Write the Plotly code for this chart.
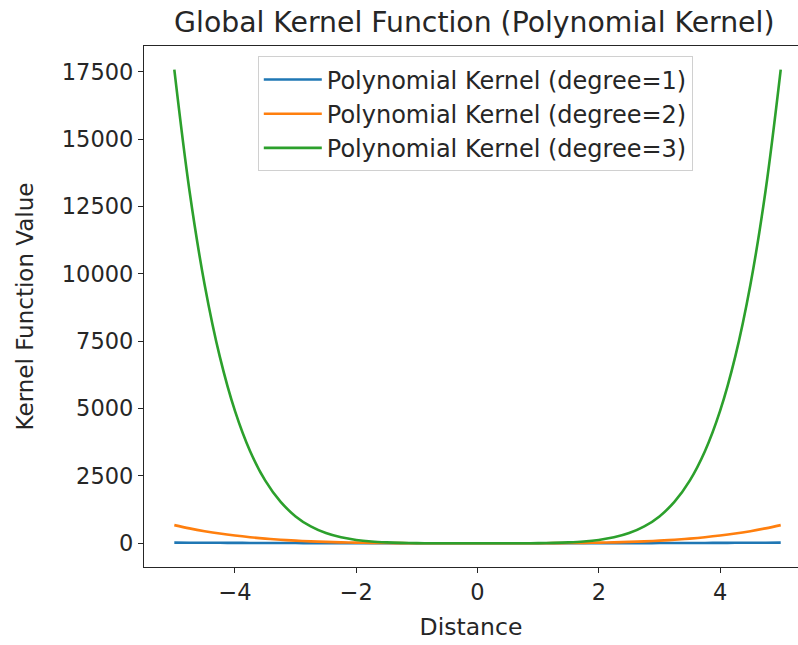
import plotly.graph_objects as go

distance = [-5, -4.75, -4.5, -4.25, -4, -3.75, -3.5, -3.25, -3, -2.75, -2.5, -2.25, -2, -1.75, -1.5, -1.25, -1, -0.75, -0.5, -0.25,
            0, 0.25, 0.5, 0.75, 1, 1.25, 1.5, 1.75, 2, 2.25, 2.5, 2.75, 3, 3.25, 3.5, 3.75, 4, 4.25, 4.5, 4.75, 5]

deg1 = [26, 23.6, 21.3, 19.1, 17, 15.1, 13.3, 11.6, 10, 8.6, 7.3, 6.1, 5, 4.1, 3.3, 2.6, 2, 1.6, 1.3, 1.1,
        1, 1.1, 1.3, 1.6, 2, 2.6, 3.3, 4.1, 5, 6.1, 7.3, 8.6, 10, 11.6, 13.3, 15.1, 17, 19.1, 21.3, 23.6, 26]

deg2 = [676, 555, 452, 363, 289, 227, 176, 134, 100, 73, 53, 37, 25, 16.5, 10.6, 6.6, 4, 2.4, 1.6, 1.1,
        1, 1.1, 1.6, 2.4, 4, 6.6, 10.6, 16.5, 25, 37, 53, 73, 100, 134, 176, 227, 289, 363, 452, 555, 676]

deg3 = [17576, 13082, 9596, 6927, 4913, 3417, 2326, 1546, 1000, 628, 381, 223, 125, 67, 34.3, 16.8, 8, 3.8, 2, 1.2,
        1, 1.2, 2, 3.8, 8, 16.8, 34.3, 67, 125, 223, 381, 628, 1000, 1546, 2326, 3417, 4913, 6927, 9596, 13082, 17576]

series_names = ["Polynomial Kernel (degree=1)", "Polynomial Kernel (degree=2)", "Polynomial Kernel (degree=3)"]
series_values = [deg1, deg2, deg3]
colors = ["#1f77b4", "#ff7f0e", "#2ca02c"]

x_ticks = [-4, -2, 0, 2, 4]
x_tick_labels = ["\u22124", "\u22122", "0", "2", "4"]
y_ticks = [0, 2500, 5000, 7500, 10000, 12500, 15000, 17500]
y_tick_labels = ["0", "2500", "5000", "7500", "10000", "12500", "15000", "17500"]

fig = go.Figure()
for i, (name, vals, c) in enumerate(zip(series_names, series_values, colors)):
    fig.add_trace(go.Scatter(x=distance, y=vals, mode="lines", name=name,
                             line=dict(color=c, width=2.6, shape="spline", smoothing=1),
                             legendgroup=str(i)))

font = "DejaVu Sans"
ink = "#262626"
axis_common = dict(showline=True, linecolor=ink, linewidth=1.3, ticks="outside", ticklen=5,
                   tickwidth=1.3, tickcolor=ink, showgrid=False, zeroline=False,
                   tickfont=dict(family=font, size=22.5, color=ink))

fig.update_layout(
    width=798, height=645,
    margin=dict(l=144, r=0, t=46, b=78),
    paper_bgcolor="white", plot_bgcolor="white",
    title=dict(text="Global Kernel Function (Polynomial Kernel)", xref="paper", x=0.505, xanchor="center",
               y=0.966, yanchor="middle", font=dict(family=font, size=28.3, color=ink)),
    xaxis=dict(range=[-5.5, 5.285], tickvals=x_ticks, ticktext=x_tick_labels, mirror=True,
               title=dict(text="Distance", font=dict(family=font, size=23.5, color=ink), standoff=14),
               **axis_common),
    yaxis=dict(range=[-878, 18455], tickvals=y_ticks, ticktext=y_tick_labels, mirror=False,
               title=dict(text="Kernel Function Value", font=dict(family=font, size=23, color=ink), standoff=21),
               **axis_common),
    legend=dict(x=0.174, y=0.98, xanchor="left", yanchor="top", bgcolor="rgba(255,255,255,0.8)",
                bordercolor="#d0d0d0", borderwidth=1, font=dict(family=font, size=24, color=ink),
                traceorder="grouped", tracegroupgap=0, itemwidth=58),
)

fig.write_html("out.html")
